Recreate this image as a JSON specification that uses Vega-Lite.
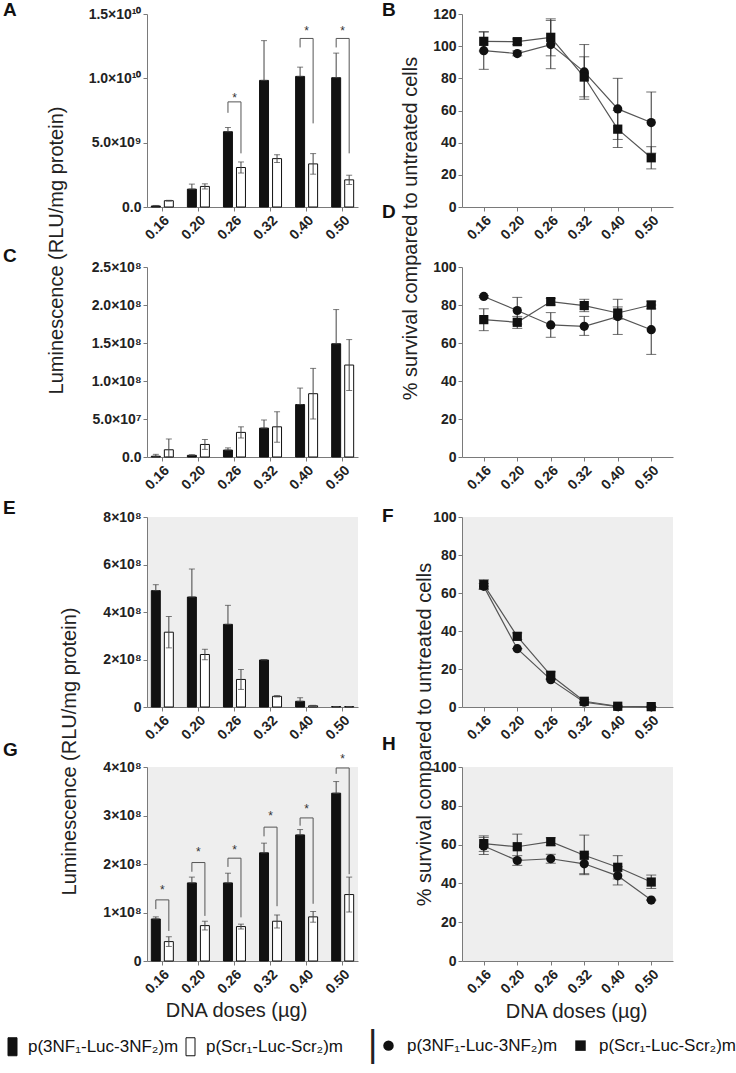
{
"$schema": "https://vega.github.io/schema/vega-lite/v6.json",
"autosize": {"type": "none"},
"padding": {"left": 147, "top": 14, "right": 589, "bottom": 1059},
"background": "white",
"config": {
  "font": "Liberation Sans",
  "view": {"stroke": null},
  "axis": {"domainColor": "#7a7a7a", "tickColor": "#7a7a7a", "tickSize": 4, "labelColor": "#222", "labelFontWeight": "bold", "labelFont": "Liberation Sans", "titleFont": "Liberation Sans", "titleFontWeight": "normal", "titleFontSize": 20, "titleColor": "#222", "grid": false, "labelPadding": 2, "labelOverlap": false},
  "axisX": {"labelAngle": -45, "labelFontSize": 14},
  "axisY": {"labelFontSize": 14},
  "title": {"font": "Liberation Sans", "fontSize": 19, "fontWeight": "bold", "anchor": "start", "frame": "group", "baseline": "alphabetic", "offset": 0, "color": "#111"}
},
"datasets": {
  "a": [
    {"dose": "0.16", "construct": "p(3NF₁-Luc-3NF₂)m", "value": 8e7, "lo": 8e7, "hi": 1.2e8},
    {"dose": "0.16", "construct": "p(Scr₁-Luc-Scr₂)m", "value": 4.9e8, "lo": 4.6e8, "hi": 5.2e8},
    {"dose": "0.20", "construct": "p(3NF₁-Luc-3NF₂)m", "value": 1.39e9, "lo": 1.39e9, "hi": 1.78e9},
    {"dose": "0.20", "construct": "p(Scr₁-Luc-Scr₂)m", "value": 1.6e9, "lo": 1.4e9, "hi": 1.8e9},
    {"dose": "0.26", "construct": "p(3NF₁-Luc-3NF₂)m", "value": 5.85e9, "lo": 5.85e9, "hi": 6.18e9},
    {"dose": "0.26", "construct": "p(Scr₁-Luc-Scr₂)m", "value": 3.07e9, "lo": 2.64e9, "hi": 3.5e9},
    {"dose": "0.32", "construct": "p(3NF₁-Luc-3NF₂)m", "value": 9.84e9, "lo": 9.84e9, "hi": 1.293e10},
    {"dose": "0.32", "construct": "p(Scr₁-Luc-Scr₂)m", "value": 3.76e9, "lo": 3.45e9, "hi": 4.07e9},
    {"dose": "0.40", "construct": "p(3NF₁-Luc-3NF₂)m", "value": 1.015e10, "lo": 1.015e10, "hi": 1.087e10},
    {"dose": "0.40", "construct": "p(Scr₁-Luc-Scr₂)m", "value": 3.35e9, "lo": 2.55e9, "hi": 4.15e9},
    {"dose": "0.50", "construct": "p(3NF₁-Luc-3NF₂)m", "value": 1.005e10, "lo": 1.005e10, "hi": 1.196e10},
    {"dose": "0.50", "construct": "p(Scr₁-Luc-Scr₂)m", "value": 2.11e9, "lo": 1.75e9, "hi": 2.47e9}
  ],
  "a_br": [
    {"dose": "0.26", "construct": "p(3NF₁-Luc-3NF₂)m", "k": 1, "y": 7.32e9},
    {"dose": "0.26", "construct": "p(3NF₁-Luc-3NF₂)m", "k": 2, "y": 8.17e9},
    {"dose": "0.26", "construct": "p(Scr₁-Luc-Scr₂)m", "k": 3, "y": 8.17e9},
    {"dose": "0.26", "construct": "p(Scr₁-Luc-Scr₂)m", "k": 4, "y": 4.17e9},
    {"dose": "0.40", "construct": "p(3NF₁-Luc-3NF₂)m", "k": 1, "y": 1.24e10},
    {"dose": "0.40", "construct": "p(3NF₁-Luc-3NF₂)m", "k": 2, "y": 1.31e10},
    {"dose": "0.40", "construct": "p(Scr₁-Luc-Scr₂)m", "k": 3, "y": 1.31e10},
    {"dose": "0.40", "construct": "p(Scr₁-Luc-Scr₂)m", "k": 4, "y": 6.5e9},
    {"dose": "0.50", "construct": "p(3NF₁-Luc-3NF₂)m", "k": 1, "y": 1.24e10},
    {"dose": "0.50", "construct": "p(3NF₁-Luc-3NF₂)m", "k": 2, "y": 1.31e10},
    {"dose": "0.50", "construct": "p(Scr₁-Luc-Scr₂)m", "k": 3, "y": 1.31e10},
    {"dose": "0.50", "construct": "p(Scr₁-Luc-Scr₂)m", "k": 4, "y": 4.17e9}
  ],
  "a_st": [
    {"dose": "0.26", "y": 8.73e9, "label": "*"},
    {"dose": "0.40", "y": 1.39e10, "label": "*"},
    {"dose": "0.50", "y": 1.39e10, "label": "*"}
  ],
  "c": [
    {"dose": "0.16", "construct": "p(3NF₁-Luc-3NF₂)m", "value": 1e6, "lo": 1e6, "hi": 3.5e6},
    {"dose": "0.16", "construct": "p(Scr₁-Luc-Scr₂)m", "value": 9.5e6, "lo": 0, "hi": 2.37e7},
    {"dose": "0.20", "construct": "p(3NF₁-Luc-3NF₂)m", "value": 2.2e6, "lo": 2.2e6, "hi": 3e6},
    {"dose": "0.20", "construct": "p(Scr₁-Luc-Scr₂)m", "value": 1.65e7, "lo": 1e7, "hi": 2.3e7},
    {"dose": "0.26", "construct": "p(3NF₁-Luc-3NF₂)m", "value": 9.1e6, "lo": 9.1e6, "hi": 1.2e7},
    {"dose": "0.26", "construct": "p(Scr₁-Luc-Scr₂)m", "value": 3.24e7, "lo": 2.5e7, "hi": 3.97e7},
    {"dose": "0.32", "construct": "p(3NF₁-Luc-3NF₂)m", "value": 3.8e7, "lo": 3.8e7, "hi": 4.87e7},
    {"dose": "0.32", "construct": "p(Scr₁-Luc-Scr₂)m", "value": 3.97e7, "lo": 1.95e7, "hi": 5.96e7},
    {"dose": "0.40", "construct": "p(3NF₁-Luc-3NF₂)m", "value": 6.9e7, "lo": 6.9e7, "hi": 9.07e7},
    {"dose": "0.40", "construct": "p(Scr₁-Luc-Scr₂)m", "value": 8.33e7, "lo": 5.0e7, "hi": 1.166e8},
    {"dose": "0.50", "construct": "p(3NF₁-Luc-3NF₂)m", "value": 1.49e8, "lo": 1.49e8, "hi": 1.94e8},
    {"dose": "0.50", "construct": "p(Scr₁-Luc-Scr₂)m", "value": 1.21e8, "lo": 8.75e7, "hi": 1.545e8}
  ],
  "e": [
    {"dose": "0.16", "construct": "p(3NF₁-Luc-3NF₂)m", "value": 4.9e8, "lo": 4.9e8, "hi": 5.15e8},
    {"dose": "0.16", "construct": "p(Scr₁-Luc-Scr₂)m", "value": 3.15e8, "lo": 2.49e8, "hi": 3.81e8},
    {"dose": "0.20", "construct": "p(3NF₁-Luc-3NF₂)m", "value": 4.63e8, "lo": 4.63e8, "hi": 5.81e8},
    {"dose": "0.20", "construct": "p(Scr₁-Luc-Scr₂)m", "value": 2.21e8, "lo": 1.99e8, "hi": 2.43e8},
    {"dose": "0.26", "construct": "p(3NF₁-Luc-3NF₂)m", "value": 3.48e8, "lo": 3.48e8, "hi": 4.28e8},
    {"dose": "0.26", "construct": "p(Scr₁-Luc-Scr₂)m", "value": 1.16e8, "lo": 7.4e7, "hi": 1.58e8},
    {"dose": "0.32", "construct": "p(3NF₁-Luc-3NF₂)m", "value": 1.98e8, "lo": 1.98e8, "hi": 2.0e8},
    {"dose": "0.32", "construct": "p(Scr₁-Luc-Scr₂)m", "value": 4.5e7, "lo": 4.2e7, "hi": 4.8e7},
    {"dose": "0.40", "construct": "p(3NF₁-Luc-3NF₂)m", "value": 2.4e7, "lo": 2.4e7, "hi": 3.9e7},
    {"dose": "0.40", "construct": "p(Scr₁-Luc-Scr₂)m", "value": 5e6, "lo": 3e6, "hi": 7e6},
    {"dose": "0.50", "construct": "p(3NF₁-Luc-3NF₂)m", "value": 2e6, "lo": 2e6, "hi": 2e6},
    {"dose": "0.50", "construct": "p(Scr₁-Luc-Scr₂)m", "value": 2e6, "lo": 2e6, "hi": 2e6}
  ],
  "g": [
    {"dose": "0.16", "construct": "p(3NF₁-Luc-3NF₂)m", "value": 8.66e7, "lo": 8.66e7, "hi": 9.1e7},
    {"dose": "0.16", "construct": "p(Scr₁-Luc-Scr₂)m", "value": 4.0e7, "lo": 3.0e7, "hi": 5.0e7},
    {"dose": "0.20", "construct": "p(3NF₁-Luc-3NF₂)m", "value": 1.61e8, "lo": 1.61e8, "hi": 1.73e8},
    {"dose": "0.20", "construct": "p(Scr₁-Luc-Scr₂)m", "value": 7.3e7, "lo": 6.4e7, "hi": 8.2e7},
    {"dose": "0.26", "construct": "p(3NF₁-Luc-3NF₂)m", "value": 1.61e8, "lo": 1.61e8, "hi": 1.81e8},
    {"dose": "0.26", "construct": "p(Scr₁-Luc-Scr₂)m", "value": 7.1e7, "lo": 6.6e7, "hi": 7.6e7},
    {"dose": "0.32", "construct": "p(3NF₁-Luc-3NF₂)m", "value": 2.23e8, "lo": 2.23e8, "hi": 2.43e8},
    {"dose": "0.32", "construct": "p(Scr₁-Luc-Scr₂)m", "value": 8.2e7, "lo": 6.8e7, "hi": 9.5e7},
    {"dose": "0.40", "construct": "p(3NF₁-Luc-3NF₂)m", "value": 2.6e8, "lo": 2.6e8, "hi": 2.71e8},
    {"dose": "0.40", "construct": "p(Scr₁-Luc-Scr₂)m", "value": 9.1e7, "lo": 8.0e7, "hi": 1.02e8},
    {"dose": "0.50", "construct": "p(3NF₁-Luc-3NF₂)m", "value": 3.46e8, "lo": 3.46e8, "hi": 3.7e8},
    {"dose": "0.50", "construct": "p(Scr₁-Luc-Scr₂)m", "value": 1.37e8, "lo": 1.01e8, "hi": 1.73e8}
  ],
  "g_br": [
    {"dose": "0.16", "construct": "p(3NF₁-Luc-3NF₂)m", "k": 1, "y": 1.07e8},
    {"dose": "0.16", "construct": "p(3NF₁-Luc-3NF₂)m", "k": 2, "y": 1.26e8},
    {"dose": "0.16", "construct": "p(Scr₁-Luc-Scr₂)m", "k": 3, "y": 1.26e8},
    {"dose": "0.16", "construct": "p(Scr₁-Luc-Scr₂)m", "k": 4, "y": 6.2e7},
    {"dose": "0.20", "construct": "p(3NF₁-Luc-3NF₂)m", "k": 1, "y": 1.84e8},
    {"dose": "0.20", "construct": "p(3NF₁-Luc-3NF₂)m", "k": 2, "y": 2.03e8},
    {"dose": "0.20", "construct": "p(Scr₁-Luc-Scr₂)m", "k": 3, "y": 2.03e8},
    {"dose": "0.20", "construct": "p(Scr₁-Luc-Scr₂)m", "k": 4, "y": 9.3e7},
    {"dose": "0.26", "construct": "p(3NF₁-Luc-3NF₂)m", "k": 1, "y": 1.94e8},
    {"dose": "0.26", "construct": "p(3NF₁-Luc-3NF₂)m", "k": 2, "y": 2.12e8},
    {"dose": "0.26", "construct": "p(Scr₁-Luc-Scr₂)m", "k": 3, "y": 2.12e8},
    {"dose": "0.26", "construct": "p(Scr₁-Luc-Scr₂)m", "k": 4, "y": 9.0e7},
    {"dose": "0.32", "construct": "p(3NF₁-Luc-3NF₂)m", "k": 1, "y": 2.57e8},
    {"dose": "0.32", "construct": "p(3NF₁-Luc-3NF₂)m", "k": 2, "y": 2.76e8},
    {"dose": "0.32", "construct": "p(Scr₁-Luc-Scr₂)m", "k": 3, "y": 2.76e8},
    {"dose": "0.32", "construct": "p(Scr₁-Luc-Scr₂)m", "k": 4, "y": 1.13e8},
    {"dose": "0.40", "construct": "p(3NF₁-Luc-3NF₂)m", "k": 1, "y": 2.79e8},
    {"dose": "0.40", "construct": "p(3NF₁-Luc-3NF₂)m", "k": 2, "y": 2.95e8},
    {"dose": "0.40", "construct": "p(Scr₁-Luc-Scr₂)m", "k": 3, "y": 2.95e8},
    {"dose": "0.40", "construct": "p(Scr₁-Luc-Scr₂)m", "k": 4, "y": 1.18e8},
    {"dose": "0.50", "construct": "p(3NF₁-Luc-3NF₂)m", "k": 1, "y": 3.86e8},
    {"dose": "0.50", "construct": "p(3NF₁-Luc-3NF₂)m", "k": 2, "y": 3.98e8},
    {"dose": "0.50", "construct": "p(Scr₁-Luc-Scr₂)m", "k": 3, "y": 3.98e8},
    {"dose": "0.50", "construct": "p(Scr₁-Luc-Scr₂)m", "k": 4, "y": 1.79e8}
  ],
  "g_st": [
    {"dose": "0.16", "y": 1.53e8, "label": "*"},
    {"dose": "0.20", "y": 2.31e8, "label": "*"},
    {"dose": "0.26", "y": 2.36e8, "label": "*"},
    {"dose": "0.32", "y": 3.05e8, "label": "*"},
    {"dose": "0.40", "y": 3.2e8, "label": "*"},
    {"dose": "0.50", "y": 4.23e8, "label": "*"}
  ],
  "b": [
    {"dose": "0.16", "series": "p(3NF₁-Luc-3NF₂)m", "value": 97.2, "lo": 85.6, "hi": 108.8},
    {"dose": "0.20", "series": "p(3NF₁-Luc-3NF₂)m", "value": 95.4, "lo": 94, "hi": 97},
    {"dose": "0.26", "series": "p(3NF₁-Luc-3NF₂)m", "value": 101, "lo": 86, "hi": 116},
    {"dose": "0.32", "series": "p(3NF₁-Luc-3NF₂)m", "value": 84, "lo": 67, "hi": 101},
    {"dose": "0.40", "series": "p(3NF₁-Luc-3NF₂)m", "value": 61, "lo": 42, "hi": 80},
    {"dose": "0.50", "series": "p(3NF₁-Luc-3NF₂)m", "value": 52.5, "lo": 33.5, "hi": 71.5},
    {"dose": "0.16", "series": "p(Scr₁-Luc-Scr₂)m", "value": 103, "lo": 97, "hi": 109},
    {"dose": "0.20", "series": "p(Scr₁-Luc-Scr₂)m", "value": 102.8, "lo": 101, "hi": 104.5},
    {"dose": "0.26", "series": "p(Scr₁-Luc-Scr₂)m", "value": 105.5, "lo": 94, "hi": 117},
    {"dose": "0.32", "series": "p(Scr₁-Luc-Scr₂)m", "value": 80.8, "lo": 68.5, "hi": 93.4},
    {"dose": "0.40", "series": "p(Scr₁-Luc-Scr₂)m", "value": 48.4, "lo": 37, "hi": 60},
    {"dose": "0.50", "series": "p(Scr₁-Luc-Scr₂)m", "value": 30.6, "lo": 23.7, "hi": 37.5}
  ],
  "d": [
    {"dose": "0.16", "series": "p(3NF₁-Luc-3NF₂)m", "value": 84.5, "lo": 84, "hi": 85},
    {"dose": "0.20", "series": "p(3NF₁-Luc-3NF₂)m", "value": 77.1, "lo": 70, "hi": 84},
    {"dose": "0.26", "series": "p(3NF₁-Luc-3NF₂)m", "value": 69.5, "lo": 63, "hi": 76},
    {"dose": "0.32", "series": "p(3NF₁-Luc-3NF₂)m", "value": 68.8, "lo": 64, "hi": 74},
    {"dose": "0.40", "series": "p(3NF₁-Luc-3NF₂)m", "value": 73.9, "lo": 64.5, "hi": 83},
    {"dose": "0.50", "series": "p(3NF₁-Luc-3NF₂)m", "value": 67, "lo": 54, "hi": 80},
    {"dose": "0.16", "series": "p(Scr₁-Luc-Scr₂)m", "value": 72.3, "lo": 66.5, "hi": 78},
    {"dose": "0.20", "series": "p(Scr₁-Luc-Scr₂)m", "value": 70.9, "lo": 67.7, "hi": 74},
    {"dose": "0.26", "series": "p(Scr₁-Luc-Scr₂)m", "value": 81.8, "lo": 80, "hi": 83.5},
    {"dose": "0.32", "series": "p(Scr₁-Luc-Scr₂)m", "value": 79.7, "lo": 76.5, "hi": 83},
    {"dose": "0.40", "series": "p(Scr₁-Luc-Scr₂)m", "value": 75.8, "lo": 72.5, "hi": 79},
    {"dose": "0.50", "series": "p(Scr₁-Luc-Scr₂)m", "value": 80, "lo": 78, "hi": 82}
  ],
  "f": [
    {"dose": "0.16", "series": "p(3NF₁-Luc-3NF₂)m", "value": 63.5, "lo": 62, "hi": 65},
    {"dose": "0.20", "series": "p(3NF₁-Luc-3NF₂)m", "value": 30.7, "lo": 30.7, "hi": 30.7},
    {"dose": "0.26", "series": "p(3NF₁-Luc-3NF₂)m", "value": 14.4, "lo": 14.4, "hi": 14.4},
    {"dose": "0.32", "series": "p(3NF₁-Luc-3NF₂)m", "value": 2.5, "lo": 2.5, "hi": 2.5},
    {"dose": "0.40", "series": "p(3NF₁-Luc-3NF₂)m", "value": 0.2, "lo": 0.2, "hi": 0.2},
    {"dose": "0.50", "series": "p(3NF₁-Luc-3NF₂)m", "value": 0.1, "lo": 0.1, "hi": 0.1},
    {"dose": "0.16", "series": "p(Scr₁-Luc-Scr₂)m", "value": 64.4, "lo": 62, "hi": 67},
    {"dose": "0.20", "series": "p(Scr₁-Luc-Scr₂)m", "value": 37.2, "lo": 35.5, "hi": 39},
    {"dose": "0.26", "series": "p(Scr₁-Luc-Scr₂)m", "value": 16.7, "lo": 15, "hi": 18.5},
    {"dose": "0.32", "series": "p(Scr₁-Luc-Scr₂)m", "value": 3, "lo": 2, "hi": 4},
    {"dose": "0.40", "series": "p(Scr₁-Luc-Scr₂)m", "value": 0.4, "lo": 0.4, "hi": 0.4},
    {"dose": "0.50", "series": "p(Scr₁-Luc-Scr₂)m", "value": 0.2, "lo": 0.2, "hi": 0.2}
  ],
  "h": [
    {"dose": "0.16", "series": "p(3NF₁-Luc-3NF₂)m", "value": 59.3, "lo": 54.9, "hi": 63.7},
    {"dose": "0.20", "series": "p(3NF₁-Luc-3NF₂)m", "value": 51.8, "lo": 49.3, "hi": 54.3},
    {"dose": "0.26", "series": "p(3NF₁-Luc-3NF₂)m", "value": 52.7, "lo": 50.4, "hi": 55},
    {"dose": "0.32", "series": "p(3NF₁-Luc-3NF₂)m", "value": 50.1, "lo": 45, "hi": 55.2},
    {"dose": "0.40", "series": "p(3NF₁-Luc-3NF₂)m", "value": 43.9, "lo": 39.2, "hi": 48.6},
    {"dose": "0.50", "series": "p(3NF₁-Luc-3NF₂)m", "value": 31.4, "lo": 31.4, "hi": 31.4},
    {"dose": "0.16", "series": "p(Scr₁-Luc-Scr₂)m", "value": 60.5, "lo": 56.5, "hi": 64.5},
    {"dose": "0.20", "series": "p(Scr₁-Luc-Scr₂)m", "value": 58.9, "lo": 52.4, "hi": 65.4},
    {"dose": "0.26", "series": "p(Scr₁-Luc-Scr₂)m", "value": 61.5, "lo": 59.5, "hi": 63.5},
    {"dose": "0.32", "series": "p(Scr₁-Luc-Scr₂)m", "value": 54.5, "lo": 44.5, "hi": 64.9},
    {"dose": "0.40", "series": "p(Scr₁-Luc-Scr₂)m", "value": 48.3, "lo": 42.3, "hi": 54.3},
    {"dose": "0.50", "series": "p(Scr₁-Luc-Scr₂)m", "value": 40.7, "lo": 37.4, "hi": 44.3}
  ]
},
"columns": 2,
"align": "each",
"bounds": "flush",
"spacing": {"row": 60, "column": 104},
"resolve": {"scale": {"fill": "shared", "shape": "shared"}},
"concat": [
  {
    "width": 211, "height": 193,
    "title": {"text": "A", "dx": -144, "dy": 17},
    "layer": [
      {"data": {"name": "a"}, "mark": {"type": "bar", "stroke": "#111", "strokeWidth": 1},
       "encoding": {
         "x": {"field": "dose", "type": "nominal", "scale": {"paddingInner": 0.39, "paddingOuter": 0.12}, "axis": {"title": null}},
         "xOffset": {"field": "construct", "type": "nominal", "scale": {"paddingInner": 0.31}},
         "y": {"field": "value", "type": "quantitative", "scale": {"domain": [0, 1.5e10], "nice": false}, "axis": {"title": "Luminescence (RLU/mg protein)", "titleX": -85, "titleY": 236, "titleAngle": 270, "titleAlign": "center", "titleBaseline": "alphabetic", "labelOverlap": false, "tickCount": 20, "values": [0, 5e9, 1e10, 1.5e10], "labelExpr": "datum.value == 0 ? '0.0' : datum.value < 1e10 ? format(datum.value / 1e9, '.1f') + '×10⁹' : format(datum.value / 1e10, '.1f') + '×10¹⁰'"}},
         "fill": {"field": "construct", "type": "nominal", "scale": {"domain": ["p(3NF₁-Luc-3NF₂)m", "p(Scr₁-Luc-Scr₂)m"], "range": ["#111111", "#ffffff"]},
           "legend": {"title": null, "orient": "none", "legendX": -144, "legendY": 1023, "direction": "horizontal", "symbolType": "M-0.5,-1H0.5V1H-0.5Z", "symbolSize": 324, "symbolStrokeColor": "#111", "symbolStrokeWidth": 1, "labelFontSize": 17, "labelOffset": 6, "columnPadding": 2, "labelLimit": 0, "labelColor": "#111", "labelFont": "Liberation Sans"}}
       }},
      {"data": {"name": "a"}, "mark": {"type": "rule", "color": "#444", "strokeWidth": 1},
       "encoding": {"x": {"field": "dose", "type": "nominal"}, "xOffset": {"field": "construct", "type": "nominal"}, "y": {"field": "lo", "type": "quantitative"}, "y2": {"field": "hi"}}},
      {"data": {"name": "a"}, "mark": {"type": "tick", "color": "#444", "size": 6, "thickness": 1},
       "encoding": {"x": {"field": "dose", "type": "nominal"}, "xOffset": {"field": "construct", "type": "nominal"}, "y": {"field": "hi", "type": "quantitative"}}},
      {"data": {"name": "a"}, "mark": {"type": "tick", "color": "#444", "size": 6, "thickness": 1},
       "encoding": {"x": {"field": "dose", "type": "nominal"}, "xOffset": {"field": "construct", "type": "nominal"}, "y": {"field": "lo", "type": "quantitative"}}},
      {"data": {"name": "a_br"}, "mark": {"type": "line", "color": "#555", "strokeWidth": 1},
       "encoding": {"x": {"field": "dose", "type": "nominal"}, "xOffset": {"field": "construct", "type": "nominal"}, "y": {"field": "y", "type": "quantitative"}, "detail": {"field": "dose"}, "order": {"field": "k"}}},
      {"data": {"name": "a_st"}, "mark": {"type": "text", "fontSize": 12, "color": "#333", "dy": 3},
       "encoding": {"x": {"field": "dose", "type": "nominal"}, "y": {"field": "y", "type": "quantitative"}, "text": {"field": "label"}}}
    ]
  },
  {
    "width": 211, "height": 193,
    "title": {"text": "B", "dx": -80, "dy": 17},
    "layer": [
      {"data": {"name": "b"}, "mark": {"type": "rule", "color": "#333", "strokeWidth": 1},
       "encoding": {
         "x": {"field": "dose", "type": "ordinal", "scale": {"type": "point", "padding": 0.65}, "axis": {"title": null}},
         "y": {"field": "lo", "type": "quantitative", "scale": {"domain": [0, 120], "nice": false}, "axis": {"title": "% survival compared to untreated cells", "titleX": -46, "titleY": 214, "titleAngle": 270, "titleAlign": "center", "titleBaseline": "alphabetic", "labelOverlap": false, "tickCount": 20, "values": [0, 20, 40, 60, 80, 100, 120]}},
         "y2": {"field": "hi"}}},
      {"data": {"name": "b"}, "mark": {"type": "tick", "color": "#333", "size": 10, "thickness": 1},
       "encoding": {"x": {"field": "dose", "type": "ordinal"}, "y": {"field": "hi", "type": "quantitative"}}},
      {"data": {"name": "b"}, "mark": {"type": "tick", "color": "#333", "size": 10, "thickness": 1},
       "encoding": {"x": {"field": "dose", "type": "ordinal"}, "y": {"field": "lo", "type": "quantitative"}}},
      {"data": {"name": "b"}, "mark": {"type": "line", "color": "#555", "strokeWidth": 1.2},
       "encoding": {"x": {"field": "dose", "type": "ordinal"}, "y": {"field": "value", "type": "quantitative"}, "detail": {"field": "series"}}},
      {"data": {"name": "b"}, "mark": {"type": "point", "filled": true, "color": "#111", "size": 85, "opacity": 1},
       "encoding": {"x": {"field": "dose", "type": "ordinal"}, "y": {"field": "value", "type": "quantitative"},
         "shape": {"field": "series", "type": "nominal", "scale": {"range": ["circle", "square"]},
           "legend": {"title": "|", "titleOrient": "left", "titleFontSize": 36, "titleFontWeight": "normal", "titleColor": "#222", "titlePadding": 2, "orient": "none", "legendX": 221, "legendY": 1023, "direction": "horizontal", "symbolSize": 110, "symbolFillColor": "#111", "symbolStrokeColor": "#111", "labelFontSize": 17, "labelOffset": 10, "columnPadding": 14, "labelLimit": 0, "labelColor": "#111", "labelFont": "Liberation Sans"}}}}
    ]
  },
  {
    "width": 211, "height": 190,
    "title": {"text": "C", "dx": -144, "dy": 9.5},
    "layer": [
      {"data": {"name": "c"}, "mark": {"type": "bar", "stroke": "#111", "strokeWidth": 1},
       "encoding": {
         "x": {"field": "dose", "type": "nominal", "scale": {"paddingInner": 0.39, "paddingOuter": 0.12}, "axis": {"title": null}},
         "xOffset": {"field": "construct", "type": "nominal", "scale": {"paddingInner": 0.31}},
         "y": {"field": "value", "type": "quantitative", "scale": {"domain": [0, 2.5e8], "nice": false}, "axis": {"title": null, "labelOverlap": false, "tickCount": 20, "values": [0, 5e7, 1e8, 1.5e8, 2e8, 2.5e8], "labelExpr": "datum.value == 0 ? '0.0' : datum.value < 1e8 ? format(datum.value / 1e7, '.1f') + '×10⁷' : format(datum.value / 1e8, '.1f') + '×10⁸'"}},
         "fill": {"field": "construct", "type": "nominal", "scale": {"domain": ["p(3NF₁-Luc-3NF₂)m", "p(Scr₁-Luc-Scr₂)m"], "range": ["#111111", "#ffffff"]}}
       }},
      {"data": {"name": "c"}, "mark": {"type": "rule", "color": "#444", "strokeWidth": 1},
       "encoding": {"x": {"field": "dose", "type": "nominal"}, "xOffset": {"field": "construct", "type": "nominal"}, "y": {"field": "lo", "type": "quantitative"}, "y2": {"field": "hi"}}},
      {"data": {"name": "c"}, "mark": {"type": "tick", "color": "#444", "size": 6, "thickness": 1},
       "encoding": {"x": {"field": "dose", "type": "nominal"}, "xOffset": {"field": "construct", "type": "nominal"}, "y": {"field": "hi", "type": "quantitative"}}},
      {"data": {"name": "c"}, "mark": {"type": "tick", "color": "#444", "size": 6, "thickness": 1},
       "encoding": {"x": {"field": "dose", "type": "nominal"}, "xOffset": {"field": "construct", "type": "nominal"}, "y": {"field": "lo", "type": "quantitative"}}}
    ]
  },
  {
    "width": 211, "height": 190,
    "title": {"text": "D", "dx": -80, "dy": -34.5},
    "layer": [
      {"data": {"name": "d"}, "mark": {"type": "rule", "color": "#333", "strokeWidth": 1},
       "encoding": {
         "x": {"field": "dose", "type": "ordinal", "scale": {"type": "point", "padding": 0.65}, "axis": {"title": null}},
         "y": {"field": "lo", "type": "quantitative", "scale": {"domain": [0, 100], "nice": false}, "axis": {"title": null, "labelOverlap": false, "tickCount": 20, "values": [0, 20, 40, 60, 80, 100]}},
         "y2": {"field": "hi"}}},
      {"data": {"name": "d"}, "mark": {"type": "tick", "color": "#333", "size": 10, "thickness": 1},
       "encoding": {"x": {"field": "dose", "type": "ordinal"}, "y": {"field": "hi", "type": "quantitative"}}},
      {"data": {"name": "d"}, "mark": {"type": "tick", "color": "#333", "size": 10, "thickness": 1},
       "encoding": {"x": {"field": "dose", "type": "ordinal"}, "y": {"field": "lo", "type": "quantitative"}}},
      {"data": {"name": "d"}, "mark": {"type": "line", "color": "#555", "strokeWidth": 1.2},
       "encoding": {"x": {"field": "dose", "type": "ordinal"}, "y": {"field": "value", "type": "quantitative"}, "detail": {"field": "series"}}},
      {"data": {"name": "d"}, "mark": {"type": "point", "filled": true, "color": "#111", "size": 85, "opacity": 1},
       "encoding": {"x": {"field": "dose", "type": "ordinal"}, "y": {"field": "value", "type": "quantitative"},
         "shape": {"field": "series", "type": "nominal", "scale": {"range": ["circle", "square"]}}}}
    ]
  },
  {
    "width": 211, "height": 190,
    "title": {"text": "E", "dx": -144, "dy": 11.5},
    "view": {"fill": "#eeeeee"},
    "layer": [
      {"data": {"name": "e"}, "mark": {"type": "bar", "stroke": "#111", "strokeWidth": 1},
       "encoding": {
         "x": {"field": "dose", "type": "nominal", "scale": {"paddingInner": 0.39, "paddingOuter": 0.12}, "axis": {"title": null}},
         "xOffset": {"field": "construct", "type": "nominal", "scale": {"paddingInner": 0.31}},
         "y": {"field": "value", "type": "quantitative", "scale": {"domain": [0, 8e8], "nice": false}, "axis": {"title": "Luminescence (RLU/mg protein)", "titleX": -72, "titleY": 234, "titleAngle": 270, "titleAlign": "center", "titleBaseline": "alphabetic", "labelOverlap": false, "tickCount": 20, "values": [0, 2e8, 4e8, 6e8, 8e8], "labelExpr": "datum.value == 0 ? '0' : format(datum.value / 1e8, 'd') + '×10⁸'"}},
         "fill": {"field": "construct", "type": "nominal", "scale": {"domain": ["p(3NF₁-Luc-3NF₂)m", "p(Scr₁-Luc-Scr₂)m"], "range": ["#111111", "#ffffff"]}}
       }},
      {"data": {"name": "e"}, "mark": {"type": "rule", "color": "#444", "strokeWidth": 1},
       "encoding": {"x": {"field": "dose", "type": "nominal"}, "xOffset": {"field": "construct", "type": "nominal"}, "y": {"field": "lo", "type": "quantitative"}, "y2": {"field": "hi"}}},
      {"data": {"name": "e"}, "mark": {"type": "tick", "color": "#444", "size": 6, "thickness": 1},
       "encoding": {"x": {"field": "dose", "type": "nominal"}, "xOffset": {"field": "construct", "type": "nominal"}, "y": {"field": "hi", "type": "quantitative"}}},
      {"data": {"name": "e"}, "mark": {"type": "tick", "color": "#444", "size": 6, "thickness": 1},
       "encoding": {"x": {"field": "dose", "type": "nominal"}, "xOffset": {"field": "construct", "type": "nominal"}, "y": {"field": "lo", "type": "quantitative"}}}
    ]
  },
  {
    "width": 211, "height": 190,
    "title": {"text": "F", "dx": -80, "dy": 19.5},
    "view": {"fill": "#eeeeee"},
    "layer": [
      {"data": {"name": "f"}, "mark": {"type": "rule", "color": "#333", "strokeWidth": 1},
       "encoding": {
         "x": {"field": "dose", "type": "ordinal", "scale": {"type": "point", "padding": 0.65}, "axis": {"title": null}},
         "y": {"field": "lo", "type": "quantitative", "scale": {"domain": [0, 100], "nice": false}, "axis": {"title": "% survival compared to untreated cells", "titleX": -32, "titleY": 217, "titleAngle": 270, "titleAlign": "center", "titleBaseline": "alphabetic", "labelOverlap": false, "tickCount": 20, "values": [0, 20, 40, 60, 80, 100]}},
         "y2": {"field": "hi"}}},
      {"data": {"name": "f"}, "mark": {"type": "tick", "color": "#333", "size": 10, "thickness": 1},
       "encoding": {"x": {"field": "dose", "type": "ordinal"}, "y": {"field": "hi", "type": "quantitative"}}},
      {"data": {"name": "f"}, "mark": {"type": "tick", "color": "#333", "size": 10, "thickness": 1},
       "encoding": {"x": {"field": "dose", "type": "ordinal"}, "y": {"field": "lo", "type": "quantitative"}}},
      {"data": {"name": "f"}, "mark": {"type": "line", "color": "#555", "strokeWidth": 1.2},
       "encoding": {"x": {"field": "dose", "type": "ordinal"}, "y": {"field": "value", "type": "quantitative"}, "detail": {"field": "series"}}},
      {"data": {"name": "f"}, "mark": {"type": "point", "filled": true, "color": "#111", "size": 85, "opacity": 1},
       "encoding": {"x": {"field": "dose", "type": "ordinal"}, "y": {"field": "value", "type": "quantitative"},
         "shape": {"field": "series", "type": "nominal", "scale": {"range": ["circle", "square"]}}}}
    ]
  },
  {
    "width": 211, "height": 194,
    "title": {"text": "G", "dx": -144, "dy": 11},
    "view": {"fill": "#eeeeee"},
    "layer": [
      {"data": {"name": "g"}, "mark": {"type": "bar", "stroke": "#111", "strokeWidth": 1},
       "encoding": {
         "x": {"field": "dose", "type": "nominal", "scale": {"paddingInner": 0.39, "paddingOuter": 0.12}, "axis": {"title": "DNA doses (µg)", "titleX": 89, "titleY": 55, "titleAngle": 0, "titleAlign": "center", "titleBaseline": "alphabetic"}},
         "xOffset": {"field": "construct", "type": "nominal", "scale": {"paddingInner": 0.31}},
         "y": {"field": "value", "type": "quantitative", "scale": {"domain": [0, 4e8], "nice": false}, "axis": {"title": null, "labelOverlap": false, "tickCount": 20, "values": [0, 1e8, 2e8, 3e8, 4e8], "labelExpr": "datum.value == 0 ? '0' : format(datum.value / 1e8, 'd') + '×10⁸'"}},
         "fill": {"field": "construct", "type": "nominal", "scale": {"domain": ["p(3NF₁-Luc-3NF₂)m", "p(Scr₁-Luc-Scr₂)m"], "range": ["#111111", "#ffffff"]}}
       }},
      {"data": {"name": "g"}, "mark": {"type": "rule", "color": "#444", "strokeWidth": 1},
       "encoding": {"x": {"field": "dose", "type": "nominal"}, "xOffset": {"field": "construct", "type": "nominal"}, "y": {"field": "lo", "type": "quantitative"}, "y2": {"field": "hi"}}},
      {"data": {"name": "g"}, "mark": {"type": "tick", "color": "#444", "size": 6, "thickness": 1},
       "encoding": {"x": {"field": "dose", "type": "nominal"}, "xOffset": {"field": "construct", "type": "nominal"}, "y": {"field": "hi", "type": "quantitative"}}},
      {"data": {"name": "g"}, "mark": {"type": "tick", "color": "#444", "size": 6, "thickness": 1},
       "encoding": {"x": {"field": "dose", "type": "nominal"}, "xOffset": {"field": "construct", "type": "nominal"}, "y": {"field": "lo", "type": "quantitative"}}},
      {"data": {"name": "g_br"}, "mark": {"type": "line", "color": "#555", "strokeWidth": 1},
       "encoding": {"x": {"field": "dose", "type": "nominal"}, "xOffset": {"field": "construct", "type": "nominal"}, "y": {"field": "y", "type": "quantitative"}, "detail": {"field": "dose"}, "order": {"field": "k"}}},
      {"data": {"name": "g_st"}, "mark": {"type": "text", "fontSize": 12, "color": "#333", "dy": 3},
       "encoding": {"x": {"field": "dose", "type": "nominal"}, "y": {"field": "y", "type": "quantitative"}, "text": {"field": "label"}}}
    ]
  },
  {
    "width": 211, "height": 194,
    "title": {"text": "H", "dx": -80, "dy": -2.5},
    "view": {"fill": "#eeeeee"},
    "layer": [
      {"data": {"name": "h"}, "mark": {"type": "rule", "color": "#333", "strokeWidth": 1},
       "encoding": {
         "x": {"field": "dose", "type": "ordinal", "scale": {"type": "point", "padding": 0.65}, "axis": {"title": "DNA doses (µg)", "titleX": 114, "titleY": 56, "titleAngle": 0, "titleAlign": "center", "titleBaseline": "alphabetic"}},
         "y": {"field": "lo", "type": "quantitative", "scale": {"domain": [0, 100], "nice": false}, "axis": {"title": null, "labelOverlap": false, "tickCount": 20, "values": [0, 20, 40, 60, 80, 100]}},
         "y2": {"field": "hi"}}},
      {"data": {"name": "h"}, "mark": {"type": "tick", "color": "#333", "size": 10, "thickness": 1},
       "encoding": {"x": {"field": "dose", "type": "ordinal"}, "y": {"field": "hi", "type": "quantitative"}}},
      {"data": {"name": "h"}, "mark": {"type": "tick", "color": "#333", "size": 10, "thickness": 1},
       "encoding": {"x": {"field": "dose", "type": "ordinal"}, "y": {"field": "lo", "type": "quantitative"}}},
      {"data": {"name": "h"}, "mark": {"type": "line", "color": "#555", "strokeWidth": 1.2},
       "encoding": {"x": {"field": "dose", "type": "ordinal"}, "y": {"field": "value", "type": "quantitative"}, "detail": {"field": "series"}}},
      {"data": {"name": "h"}, "mark": {"type": "point", "filled": true, "color": "#111", "size": 85, "opacity": 1},
       "encoding": {"x": {"field": "dose", "type": "ordinal"}, "y": {"field": "value", "type": "quantitative"},
         "shape": {"field": "series", "type": "nominal", "scale": {"range": ["circle", "square"]}}}}
    ]
  }
]
}
